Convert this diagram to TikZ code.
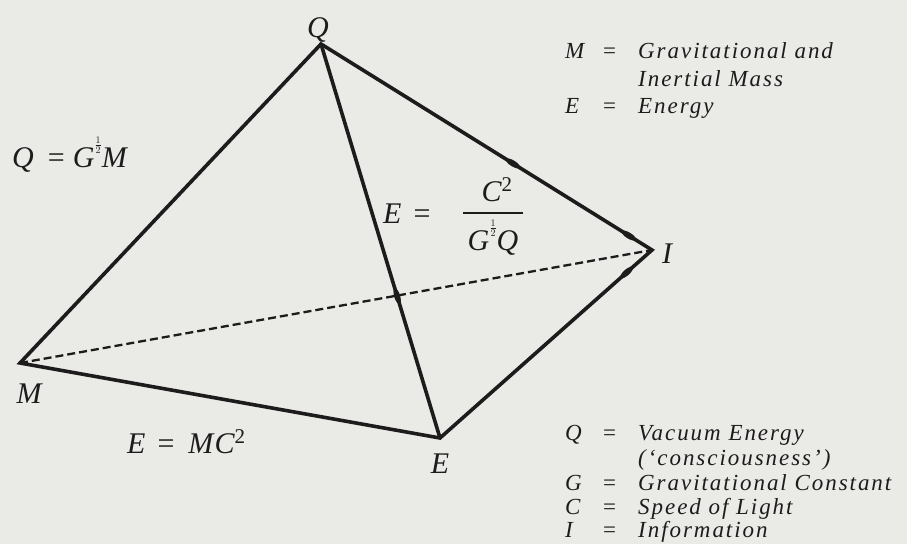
\documentclass[tikz,border=0pt]{standalone}
\usepackage{fontspec}
\setmainfont{Liberation Serif}
\newfontfamily\lblfont[LetterSpace=8.5]{Liberation Serif}
\newfontfamily\bigfont[LetterSpace=4]{Liberation Serif}
\usetikzlibrary{decorations.markings}
\definecolor{bgc}{RGB}{234,234,231}
\definecolor{ink}{RGB}{30,27,28}
\newcommand\halfsup{\raisebox{0.6em}{\fontsize{14}{14}\selectfont$\frac{1}{2}$}}
\newcommand\eqs[2]{\hspace{#1}\upshape=\itshape\hspace{#2}}
\tikzset{
  edge/.style={draw=ink, line width=3.6pt, line join=miter, miter limit=20},
  dashedge/.style={draw=ink, line width=2.3pt, dash pattern=on 8pt off 4pt},
  big/.style={inner sep=0pt, text=ink, font=\bigfont\fontsize{30}{34}\selectfont\itshape},
  leg/.style={inner sep=0pt, anchor=base west, text=ink, font=\lblfont\fontsize{23}{26}\selectfont\itshape},
  bulge/.style={decoration={markings, mark=at position #1 with {\fill[ink] (0,0) ellipse (8pt and 3pt);}}, decorate}
}
\begin{document}
\begin{tikzpicture}[x=1pt, y=-1pt]
\fill[bgc] (0,0) rectangle (907,544);
\useasboundingbox (0,0) rectangle (907,544);
% vertices
\coordinate (Q) at (321,44);
\coordinate (I) at (652,250);
\coordinate (M) at (20,363);
\coordinate (E) at (440,438);
% edges
\draw[dashedge] (M) -- (I);
\draw[edge] (M) -- (Q) -- (I) -- (E) -- cycle;
\draw[edge] (Q) -- (E);
\path[bulge=0.58] (Q) -- (I);
\path[bulge=0.93] (Q) -- (I);
\path[bulge=0.12] (I) -- (E);
\path[bulge=0.64] (Q) -- (E);
% vertex labels
\node[big, anchor=base] (lQ) at (318,37) {Q};
\node[big, anchor=base] (lI) at (667,263) {I};
\node[big, anchor=base] (lM) at (29,403) {M};
\node[big, anchor=base] (lE) at (440,473) {E};
% relation labels
\node[big, anchor=base west] (qgm) at (12,167) {Q\eqs{14pt}{8pt}G\halfsup M};
\node[big, anchor=base west] (emc) at (127,453) {E\eqs{12pt}{14pt}MC\textsuperscript{\upshape 2}};
\node[big, anchor=base west] (eq) at (383,223) {E\eqs{12pt}{0pt}};
\node[big, anchor=base] (num) at (497,201) {C\textsuperscript{\upshape 2}};
\node[big, anchor=base] (den) at (493,250) {G\halfsup Q};
\draw[ink, line width=1.8pt] (463,213) -- (523,213);
% legend top
\node[leg] (lg1a) at (565,58) {M};
\node[leg] (lg1b) at (603,58) {\upshape=};
\node[leg] (lg1c) at (638,58) {Gravitational and};
\node[leg] (lg2) at (638,86) {Inertial Mass};
\node[leg] (lg3a) at (565,113) {E};
\node[leg] (lg3b) at (603,113) {\upshape=};
\node[leg] (lg3c) at (638,113) {Energy};
% legend bottom
\node[leg] (lg4a) at (565,440) {Q};
\node[leg] (lg4b) at (603,440) {\upshape=};
\node[leg] (lg4c) at (638,440) {Vacuum Energy};
\node[leg] (lg5) at (638,465) {(‘consciousness’)};
\node[leg] (lg6a) at (565,490) {G};
\node[leg] (lg6b) at (603,490) {\upshape=};
\node[leg] (lg6c) at (638,490) {Gravitational Constant};
\node[leg] (lg7a) at (565,514) {C};
\node[leg] (lg7b) at (603,514) {\upshape=};
\node[leg] (lg7c) at (638,514) {Speed of Light};
\node[leg] (lg8a) at (565,537) {I};
\node[leg] (lg8b) at (603,537) {\upshape=};
\node[leg] (lg8c) at (638,537) {Information};
\end{tikzpicture}
\end{document}
